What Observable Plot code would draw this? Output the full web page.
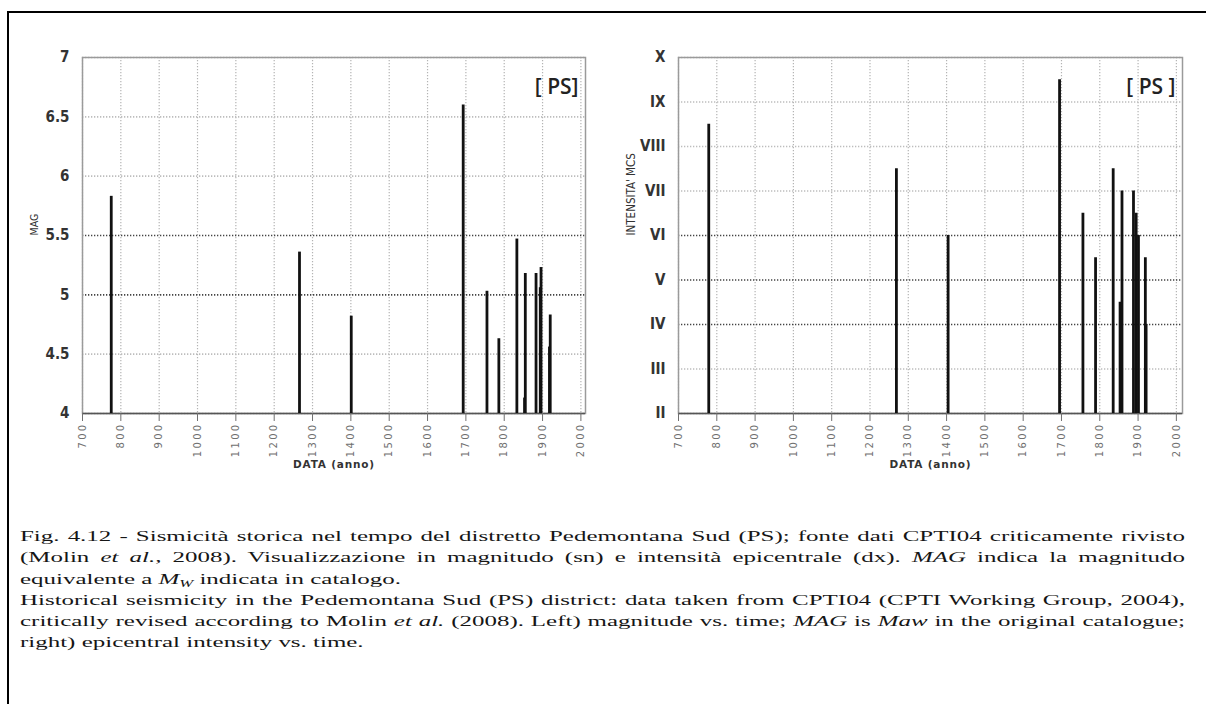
<!DOCTYPE html>
<html><head><meta charset="utf-8">
<script src="https://cdn.jsdelivr.net/npm/d3@7"></script>
<script src="https://cdn.jsdelivr.net/npm/@observablehq/plot@0.6"></script>
<style>
html,body{margin:0;padding:0;background:#fff;}
body{width:1206px;height:704px;overflow:hidden;position:relative;}
#border{position:absolute;left:7px;top:11px;right:-5px;bottom:-5px;border-top:2.5px solid #000;border-left:2.5px solid #000;}
.chart{position:absolute;top:0;}
#left{left:0}
#right{left:600px}
g[aria-label="x-axis tick label"] text{letter-spacing:2.3px}
.xtitle text{letter-spacing:0.8px}
#caption{position:absolute;left:20px;top:526px;font-family:"Liberation Serif","Times New Roman",serif;font-size:15px;line-height:21.3px;color:#161616;transform-origin:0 0;}
#caption .j{text-align:justify;text-align-last:justify}
#caption sub{font-size:10px;line-height:0;vertical-align:-3px}
</style></head>
<body>
<div id="border"></div>
<div id="left" class="chart"></div>
<div id="right" class="chart"></div>
<div id="caption">
<div class="j"><span>Fig. 4.12 - Sismicità storica nel tempo del distretto Pedemontana Sud (PS); fonte dati CPTI04 criticamente rivisto</span></div>
<div class="j"><span>(Molin <i>et al.</i>, 2008). Visualizzazione in magnitudo (sn) e intensità epicentrale (dx). <i>MAG</i> indica la magnitudo</span></div>
<div><span>equivalente a <i>M<sub>W</sub></i> indicata in catalogo.</span></div>
<div class="j"><span>Historical seismicity in the Pedemontana Sud (PS) district: data taken from CPTI04 (CPTI Working Group, 2004),</span></div>
<div class="j"><span>critically revised according to Molin <i>et al.</i> (2008). Left) magnitude vs. time; <i>MAG</i> is <i>Maw</i> in the original catalogue;</span></div>
<div><span>right) epicentral intensity vs. time.</span></div>
</div>
<script>
// ---- data ----
const xTicks = [700, 800, 900, 1000, 1100, 1200, 1300, 1400, 1500, 1600, 1700, 1800, 1900, 2000];
const magYears  = [775, 1266, 1401, 1693, 1755, 1786, 1833, 1855, 1853, 1883, 1896, 1894, 1920, 1918];
const magValues = [5.83, 5.36, 4.82, 6.60, 5.03, 4.63, 5.47, 5.18, 4.13, 5.18, 5.23, 5.06, 4.83, 4.56];
const magTicks = [4, 4.5, 5, 5.5, 6, 6.5, 7];
const magDarkGrid = [5, 5.5];
const intYears  = [779, 1269, 1404, 1695, 1756, 1789, 1835, 1858, 1853, 1888, 1895, 1901, 1919, 1921];
const intValues = [8.5, 7.5, 6, 9.5, 6.5, 5.5, 7.5, 7, 4.5, 7, 6.5, 6, 5.5, 4];
const intTicks = [2, 3, 4, 5, 6, 7, 8, 9, 10];
const intLabels = ["II", "III", "IV", "V", "VI", "VII", "VIII", "IX", "X"];
const intDarkGrid = [4, 5, 6];

const tickFont = "'Liberation Sans Narrow','DejaVu Sans Condensed',sans-serif";

function makeChart({years, values, yDomain, yTicks, yFmt, dark, xDomain, mL, mR, yTitle, titleDx, titleSize, tag}) {
  const rows = years.map((y, i) => ({year: y, v: values[i]}));
  const light = yTicks.filter(t => !dark.includes(t));
  return Plot.plot({
    width: 600, height: 480,
    marginLeft: mL, marginRight: mR, marginTop: 57, marginBottom: 67,
    style: {fontFamily: "'DejaVu Sans', sans-serif", background: "transparent", overflow: "visible"},
    x: {domain: xDomain},
    y: {domain: yDomain},
    marks: [
      Plot.ruleX(xTicks, {stroke: "#b4b4b4", strokeDasharray: "1.3,1.7", strokeWidth: 1.2}),
      Plot.ruleY(light, {stroke: "#bdbdbd", strokeDasharray: "1.3,1.7", strokeWidth: 1.6}),
      Plot.ruleY(dark, {stroke: "#444", strokeDasharray: "1.3,1.7", strokeWidth: 1.6}),
      Plot.frame({stroke: "#9a9a9a", strokeWidth: 1.5}),
      Plot.ruleY([yDomain[0]], {stroke: "#555", strokeWidth: 1.6}),
      Plot.ruleX(rows, {x: "year", y1: yDomain[0], y2: "v", stroke: "#111", strokeWidth: 2.8}),
      Plot.axisX(xTicks, {tickRotate: -90, tickSize: 8, tickPadding: 1, fontSize: 10, color: "#707070", tickFormat: d => String(d), label: null}),
      Plot.axisY(yTicks, {tickSize: 0, tickPadding: 13, fontSize: 15, fontWeight: "bold", fill: "#333", fontFamily: tickFont, tickFormat: yFmt, label: null}),
      Plot.text([yTitle], {frameAnchor: "left", dx: titleDx, rotate: -90, fontSize: titleSize, fill: "#333", fontFamily: tickFont}),
      Plot.text(["DATA (anno)"], {frameAnchor: "bottom", dy: 54, fontSize: 10.5, fill: "#333", fontWeight: "bold", className: "xtitle"}),
      Plot.text([tag], {frameAnchor: "top-right", dx: -7, dy: 22, fontSize: 21, fontWeight: 600, fill: "#222", fontFamily: "'Open Sans', sans-serif", textAnchor: "end"})
    ]
  });
}

document.getElementById("left").append(makeChart({
  years: magYears, values: magValues, yDomain: [4, 7], yTicks: magTicks, yFmt: d => String(d),
  dark: magDarkGrid, xDomain: [700, 2012], mL: 82, mR: 15, yTitle: "MAG", titleDx: -48, titleSize: 10.5, tag: "[ PS]"
}));
document.getElementById("right").append(makeChart({
  years: intYears, values: intValues, yDomain: [2, 10], yTicks: intTicks, yFmt: d => intLabels[intTicks.indexOf(d)],
  dark: intDarkGrid, xDomain: [700, 2016], mL: 78, mR: 18, yTitle: "INTENSITA' MCS", titleDx: -47, titleSize: 11.5, tag: "[ PS ]"
}));

// caption: stretched horizontally like the scanned figure
const cap = document.getElementById("caption");
let W = 0;
cap.querySelectorAll("span").forEach(s => { W = Math.max(W, s.getBoundingClientRect().width); });
const target = 1165;
const s = target / (W * 1.01);
cap.style.width = (target / s) + "px";
cap.style.transform = `scaleX(${s})`;
</script>
</body></html>
